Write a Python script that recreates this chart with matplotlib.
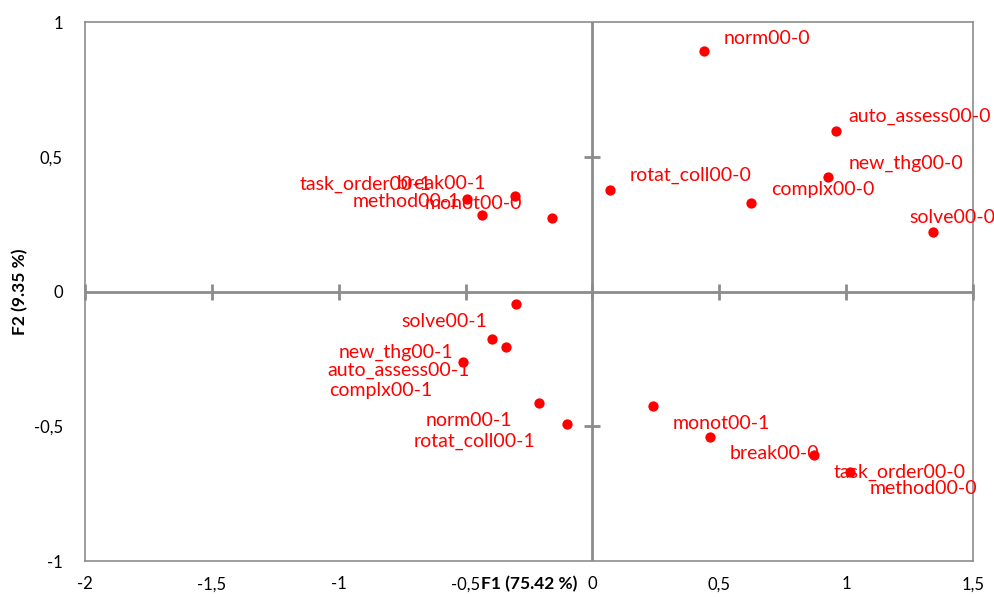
import matplotlib
matplotlib.use("Agg")
import matplotlib.pyplot as plt
from matplotlib.ticker import FuncFormatter

plt.rcParams['font.family'] = ['Lato', 'DejaVu Sans']

# category coordinates on the first two factors
labels = ["norm00-0", "auto_assess00-0", "new_thg00-0", "complx00-0", "rotat_coll00-0", "solve00-0",
          "task_order00-1", "break00-1", "method00-1", "monot00-0",
          "solve00-1", "new_thg00-1", "auto_assess00-1", "complx00-1", "norm00-1", "rotat_coll00-1",
          "monot00-1", "break00-0", "task_order00-0", "method00-0"]
f1 = [0.44, 0.96, 0.929, 0.625, 0.069, 1.343,
      -0.494, -0.304, -0.435, -0.159,
      -0.301, -0.396, -0.341, -0.510, -0.210, -0.100,
      0.238, 0.463, 0.873, 1.015]
f2 = [0.892, 0.596, 0.425, 0.328, 0.377, 0.221,
      0.343, 0.354, 0.284, 0.273,
      -0.046, -0.176, -0.206, -0.262, -0.414, -0.492,
      -0.425, -0.540, -0.607, -0.670]

xticks = [-2, -1.5, -1, -0.5, 0, 0.5, 1, 1.5]
yticks = [-1, -0.5, 0, 0.5, 1]

# label placement (pixel offsets from the point, alignment)
offsets = [(20, 13, 'left'), (12, 15, 'left'), (20, 14, 'left'), (20, 14, 'left'), (20, 15, 'left'), (-24, 14, 'left'),
           (-36, 15, 'right'), (-29, 13, 'right'), (-22, 13, 'right'), (-30, 14, 'right'),
           (-29, -18, 'right'), (-39, -13, 'right'), (-36, -23, 'right'), (-31, -28, 'right'), (-27, -17, 'right'), (-32, -17, 'right'),
           (20, -17, 'left'), (20, -16, 'left'), (20, -17, 'left'), (20, -16, 'left')]

red = "#ff0000"
grey = "#8c8c8c"

fig = plt.figure(figsize=(9.95, 5.97), dpi=100)
ax = fig.add_axes([0.0854, 0.0603, 0.8925, 0.9028])

ax.set_xlim(-2, 1.5)
ax.set_ylim(-1, 1)

ax.axhline(0, color=grey, lw=2, zorder=1)
ax.axvline(0, color=grey, lw=2, zorder=1)
# cross ticks on the centre lines
ax.plot(xticks, [0] * len(xticks), ls='none', marker='|', ms=11, mew=2, color=grey, zorder=1, clip_on=False)
ax.plot([0, 0], [-0.5, 0.5], ls='none', marker='_', ms=11, mew=2, color=grey, zorder=1)

ax.scatter(f1, f2, s=55, color=red, zorder=3, linewidths=0)

for name, x, y, (dx, dy, ha) in zip(labels, f1, f2, offsets):
    ax.annotate(name, (x, y), xytext=(dx, dy), textcoords='offset pixels',
                ha=ha, va='center', color=red, fontsize=14, zorder=4,
                annotation_clip=False)

for sp in ax.spines.values():
    sp.set_color(grey)
    sp.set_linewidth(1.2)

ax.set_xticks(xticks)
ax.set_yticks(yticks)
fmt = FuncFormatter(lambda v, p: ("%g" % v).replace(".", ","))
ax.xaxis.set_major_formatter(fmt)
ax.yaxis.set_major_formatter(fmt)
ax.tick_params(length=0, labelsize=12, colors='black')
ax.tick_params(axis='x', pad=11)
ax.tick_params(axis='y', pad=16)

ax.set_xlabel("F1 (75.42 %)", fontsize=12.5, fontweight='bold', labelpad=-12)
ax.set_ylabel("F2 (9.35 %)", fontsize=12.5, fontweight='bold', labelpad=4)

fig.savefig("out.png", dpi=100)
